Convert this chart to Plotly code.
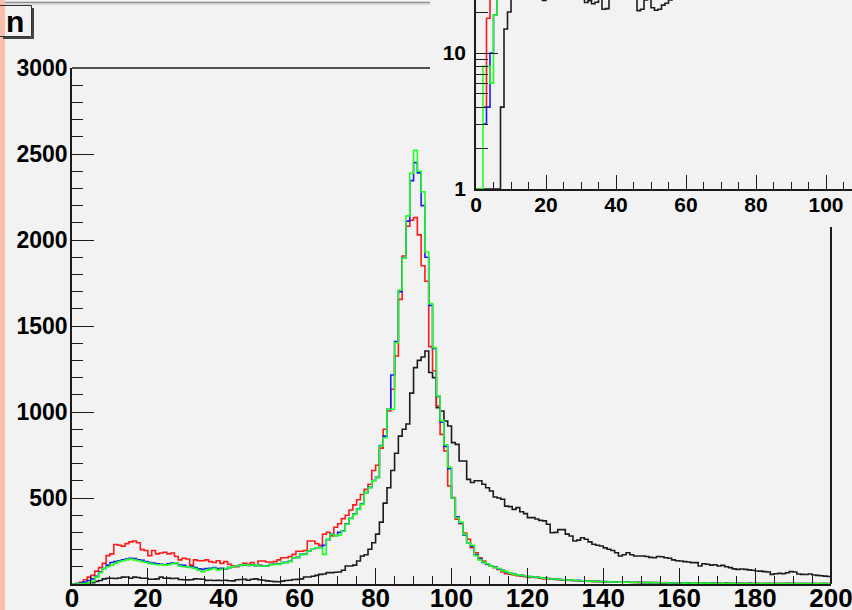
import plotly.graph_objects as go

W, H = 852, 610


def px(x):
    return x / W


def py(y):
    return 1 - y / H


# ---------------- data (1-unit bins, 0..200) ----------------
red_counts = [
    0, 3, 10, 25, 40, 50, 75, 95, 120, 165,
    175, 230, 225, 220, 235, 245, 250, 240, 200, 195,
    165, 195, 175, 180, 185, 175, 180, 160, 140, 150,
    145, 110, 140, 135, 135, 140, 130, 125, 135, 120,
    130, 115, 105, 100, 110, 120, 115, 125, 110, 134,
    134, 128, 128, 130, 140, 153, 153, 160, 172, 190,
    190, 195, 250, 250, 235, 225, 289, 300, 280, 330,
    350, 380, 400, 430, 460, 490, 520, 550, 580, 660,
    690, 790, 900, 1006, 1132, 1326, 1655, 1907, 2080, 2115,
    2130, 2030, 1850, 1760, 1380, 1240, 1035, 870, 773, 570,
    503, 377, 350, 296, 260, 211, 182, 153, 134, 114,
    105, 95, 85, 70, 60, 57, 52, 48, 45, 42,
    38, 40, 36, 33, 30, 31, 28, 26, 25, 22,
    20, 21, 19, 18, 16, 17, 15, 14, 15, 13,
    12, 13, 11, 12, 10, 11, 10, 9, 10, 8,
    9, 8, 7, 9, 7, 6, 8, 7, 6, 5,
    7, 6, 5, 6, 5, 4, 5, 6, 4, 5,
    4, 3, 5, 4, 3, 4, 5, 3, 4, 3,
    4, 3, 2, 4, 3, 3, 2, 3, 4, 2,
    3, 2, 3, 2, 3, 2, 2, 3, 2, 2,
]

blue_counts = [
    0, 2, 5, 12, 20, 30, 45, 70, 90, 110,
    125, 130, 135, 140, 145, 150, 148, 140, 138, 130,
    125, 122, 118, 115, 112, 118, 122, 120, 110, 108,
    100, 102, 95, 88, 85, 90, 92, 95, 90, 92,
    88, 95, 100, 105, 108, 110, 108, 110, 106, 108,
    106, 106, 114, 116, 116, 124, 126, 132, 153, 155,
    172, 174, 192, 205, 211, 213, 225, 258, 290, 282,
    300, 310, 350, 382, 408, 436, 466, 531, 562, 602,
    620, 805, 860, 1016, 1215, 1410, 1700, 1894, 2110, 2345,
    2450, 2390, 2200, 1900, 1620, 1370, 1090, 940, 800, 670,
    500, 390, 355, 285, 240, 220, 170, 145, 125, 115,
    105, 98, 88, 80, 70, 62, 58, 52, 50, 46,
    44, 40, 41, 36, 34, 32, 30, 28, 27, 24,
    23, 22, 20, 21, 18, 17, 18, 16, 15, 14,
    14, 13, 12, 13, 11, 10, 11, 10, 9, 10,
    8, 9, 8, 7, 8, 7, 6, 7, 6, 7,
    5, 6, 5, 6, 5, 4, 5, 4, 5, 4,
    4, 3, 4, 4, 3, 4, 3, 3, 4, 3,
    3, 2, 3, 3, 2, 3, 2, 3, 2, 2,
    3, 2, 2, 3, 2, 2, 1, 2, 2, 1,
]

green_counts = [
    0, 0, 1, 2, 8, 15, 40, 65, 90, 100,
    110, 120, 130, 135, 140, 145, 140, 135, 130, 125,
    120, 115, 112, 112, 110, 112, 118, 122, 105, 100,
    100, 95, 90, 80, 72, 80, 85, 92, 82, 86,
    90, 95, 100, 105, 108, 112, 110, 108, 110, 105,
    105, 105, 114, 114, 114, 124, 124, 130, 153, 153,
    172, 172, 192, 205, 211, 211, 172, 260, 289, 280,
    285, 308, 347, 380, 405, 434, 463, 531, 560, 600,
    618, 802, 850, 1016, 1016, 1403, 1709, 1894, 2140, 2388,
    2521, 2400, 2280, 1930, 1630, 1374, 1093, 950, 810, 680,
    500, 385, 360, 290, 240, 225, 165, 140, 128, 118,
    104, 96, 90, 78, 72, 63, 56, 53, 49, 47,
    43, 41, 39, 37, 33, 32, 29, 29, 26, 25,
    22, 23, 21, 19, 19, 16, 17, 15, 16, 14,
    13, 14, 12, 12, 11, 11, 10, 11, 9, 9,
    9, 8, 8, 8, 7, 7, 7, 6, 6, 6,
    6, 5, 6, 5, 5, 5, 4, 5, 4, 4,
    4, 4, 3, 4, 3, 3, 4, 3, 3, 3,
    3, 3, 2, 3, 3, 2, 3, 2, 2, 3,
    2, 2, 3, 2, 2, 2, 2, 2, 1, 2,
]

black_counts = [
    0, 0, 0, 4, 8, 8, 15, 20, 30, 33,
    33, 32, 35, 40, 41, 33, 40, 38, 33, 33,
    28, 28, 30, 40, 33, 34, 32, 33, 26, 25,
    24, 25, 30, 29, 28, 21, 22, 20, 21, 20,
    22, 19, 18, 25, 26, 27, 22, 28, 30, 25,
    22, 18, 16, 14, 13, 17, 20, 22, 26, 27,
    30, 41, 41, 45, 50, 56, 58, 66, 66, 68,
    70, 80, 105, 105, 110, 134, 163, 170, 202, 240,
    290, 360, 470, 560, 660, 760, 860, 900, 930, 1110,
    1258, 1300, 1320, 1355, 1230, 1200, 1025, 1006, 948, 919,
    822, 812, 715, 715, 608, 590, 600, 600, 580, 560,
    541, 506, 500, 493, 453, 450, 434, 444, 420, 409,
    386, 386, 378, 370, 367, 347, 298, 300, 316, 316,
    290, 279, 250, 255, 269, 260, 245, 231, 225, 221,
    210, 202, 195, 182, 163, 170, 182, 170, 163, 163,
    163, 160, 155, 153, 160, 158, 153, 150, 140, 135,
    134, 130, 128, 124, 124, 105, 118, 115, 110, 112,
    105, 108, 100, 95, 88, 85, 87, 85, 82, 80,
    76, 75, 72, 70, 56, 60, 62, 60, 65, 72,
    70, 58, 56, 55, 58, 52, 50, 48, 46, 44,
]

# inset (log scale, only the low part is visible)
inset_red = [None, None, 4, 18, 60, 110, 150]
inset_blue = [None, None, 3, 4, 10, 19, 55, 100]
inset_green = [1, 1, 8, 8, 6, 19, 50, 100]
inset_black = [
    1, 1, 1, 1, 1, 1, 1, 4, 15, 20,
    30, 35, 38, 33, 36, 31, 29, 32, 28, 24.3,
    27, 30, 28, 33, 29, 31, 27, 29, 30, 26,
    28, 23.5, 24.2, 23, 23.6, 26, 21, 21.2, 26, 28,
    27, 30, 29, 27, 31, 28, 20.5, 21, 24.5, 27,
    21.5, 20.6, 21, 22.5, 23.2, 24.5, 28, 30, 33, 35,
    32, 36, 38, 35, 40, 42,
]

main_ticks_x = [0, 20, 40, 60, 80, 100, 120, 140, 160, 180, 200]
main_ticks_y = [0, 500, 1000, 1500, 2000, 2500, 3000]
main_labels_y = ["", "500", "1000", "1500", "2000", "2500", "3000"]
inset_ticks_x = [0, 20, 40, 60, 80, 100]
inset_ticks_y = [1, 10, 100]

for arr in (red_counts, blue_counts, green_counts, black_counts):
    assert len(arr) == 200


def step(vals):
    xs = list(range(len(vals) + 1))
    ys = list(vals) + [vals[-1]]
    return xs, ys


fig = go.Figure()

series = [
    (black_counts, "#1c1c1c"),
    (red_counts, "#ff1a1a"),
    (blue_counts, "#1a1aff"),
    (green_counts, "#22ff22"),
]
for vals, col in series:
    xs, ys = step(vals)
    fig.add_trace(go.Scatter(x=xs, y=ys, mode="lines", line=dict(shape="hv", color=col, width=1.6),
                             xaxis="x", yaxis="y", hoverinfo="skip"))

inset_series = [
    (inset_black, "#1c1c1c"),
    (inset_red, "#ff1a1a"),
    (inset_blue, "#1a1aff"),
    (inset_green, "#22ff22"),
]
for vals, col in inset_series:
    xs, ys = step(vals)
    fig.add_trace(go.Scatter(x=xs, y=ys, mode="lines", line=dict(shape="hv", color=col, width=1.6),
                             xaxis="x2", yaxis="y2", hoverinfo="skip", connectgaps=False))

AX = "#1c1c1c"
common = dict(showgrid=False, zeroline=False, showline=True, linecolor=AX, linewidth=1.5,
              ticks="inside", tickcolor=AX, tickwidth=1.3, automargin=False, fixedrange=True,
              ticklabeloverflow="allow")


def tfont(size):
    return dict(family="Liberation Sans, Arial, sans-serif", size=size, color="black", weight="bold")


fig.update_layout(
    width=W, height=H,
    autosize=False,
    margin=dict(l=0, r=0, t=0, b=0, pad=0, autoexpand=False),
    paper_bgcolor="#f2f2f2",
    plot_bgcolor="rgba(0,0,0,0)",
    showlegend=False,
    xaxis=dict(domain=[px(72), px(831)], range=[0, 200], anchor="y",
               tickmode="array", tickvals=main_ticks_x, ticklen=16, ticklabelstandoff=-10,
               minor=dict(ticks="inside", dtick=5, tick0=0, ticklen=8, tickcolor=AX, tickwidth=1.3),
               tickfont=tfont(26), **common),
    yaxis=dict(domain=[py(584), py(68)], range=[0, 3000], anchor="x",
               tickmode="array", tickvals=main_ticks_y, ticktext=main_labels_y, ticklen=22,
               ticklabelstandoff=-2,
               minor=dict(ticks="inside", dtick=100, tick0=0, ticklen=11, tickcolor=AX, tickwidth=1.3),
               tickfont=tfont(23), **common),
    xaxis2=dict(domain=[px(476), 1], range=[0, (852 - 476) / 3.5], anchor="y2",
                tickmode="array", tickvals=inset_ticks_x, ticklen=14, ticklabelstandoff=-4,
                minor=dict(ticks="inside", dtick=5, tick0=0, ticklen=7, tickcolor=AX, tickwidth=1.3),
                tickfont=tfont(21), **common),
    yaxis2=dict(domain=[py(189), 1], type="log", range=[0, 189 / 136], anchor="x2",
                tickmode="array", tickvals=inset_ticks_y, ticktext=[str(v) for v in inset_ticks_y], ticklen=22,
                ticklabelstandoff=4,
                minor=dict(ticks="inside", tickmode="array",
                           tickvals=[2, 3, 4, 5, 6, 7, 8, 9, 20, 30, 40],
                           ticklen=12, tickcolor=AX, tickwidth=1.3),
                tickfont=tfont(21), **common),
)

shapes = [
    # salmon strip at the left edge
    dict(type="rect", xref="paper", yref="paper", x0=0, x1=px(5), y0=0, y1=1,
         fillcolor="rgb(250,190,172)", line=dict(width=0), layer="above"),
    # top separator line
    dict(type="line", xref="paper", yref="paper", x0=px(5), x1=px(430), y0=py(2.5), y1=py(2.5),
         line=dict(color="#8a8a8a", width=1.5)),
    dict(type="line", xref="paper", yref="paper", x0=px(5), x1=px(430), y0=py(4.5), y1=py(4.5),
         line=dict(color="#d6d6d6", width=1)),
    # main frame: top segment and right segment
    dict(type="line", xref="paper", yref="paper", x0=px(72), x1=px(430), y0=py(68), y1=py(68),
         line=dict(color=AX, width=1.5)),
    dict(type="line", xref="paper", yref="paper", x0=px(831), x1=px(831), y0=py(584), y1=py(227),
         line=dict(color=AX, width=2)),
    # title box
    dict(type="rect", xref="paper", yref="paper", x0=px(-3), x1=px(31.5), y0=py(36.5), y1=py(5.5),
         line=dict(color="#333333", width=1), fillcolor="rgba(0,0,0,0)"),
    dict(type="line", xref="paper", yref="paper", x0=px(33), x1=px(33), y0=py(8), y1=py(38.5),
         line=dict(color="#444444", width=2)),
    dict(type="line", xref="paper", yref="paper", x0=px(3), x1=px(34), y0=py(38), y1=py(38),
         line=dict(color="#444444", width=2)),
]
fig.update_layout(shapes=shapes)

fig.add_annotation(xref="paper", yref="paper", x=px(15), y=py(21), text="n", showarrow=False,
                   xanchor="center", yanchor="middle",
                   font=dict(family="Liberation Sans, Arial, sans-serif", size=30, color="black", weight="bold"))

fig.write_html(
    "out.html",
    config={"displayModeBar": False},
    post_script="document.body.style.margin='0';document.body.style.padding='0';"
                "document.body.style.overflow='hidden';document.body.style.background='#f2f2f2';",
)
